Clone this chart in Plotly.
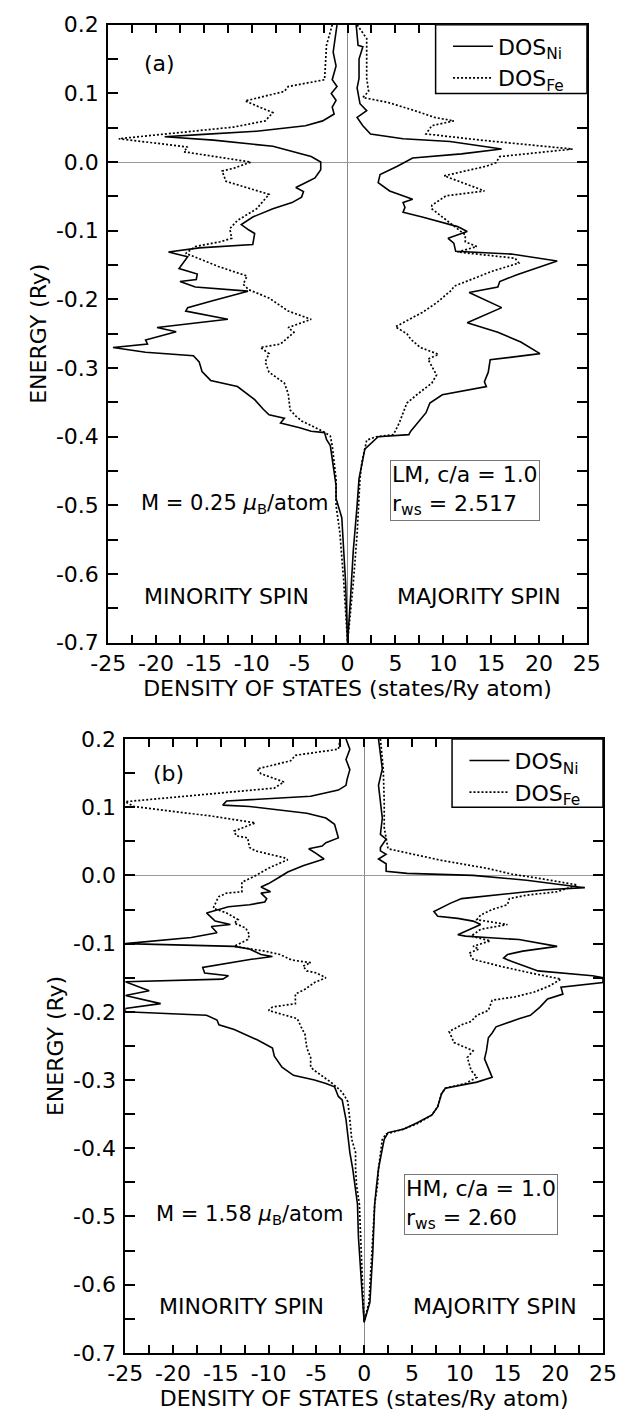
import plotly.graph_objects as go

FONT = "DejaVu Sans"

# ---------------- panel (a): LM, c/a = 1.0, r_ws = 2.517 ----------------
a_ni_min_e = [0.2, 0.18, 0.16, 0.14, 0.12, 0.11, 0.10, 0.09, 0.08, 0.07, 0.06, 0.053, 0.045, 0.04, 0.037,
              0.032, 0.023, 0.008, 0.0, -0.011, -0.023, -0.03, -0.037, -0.043, -0.051, -0.059, -0.068,
              -0.08, -0.091, -0.099, -0.104, -0.12, -0.125, -0.131, -0.138, -0.155, -0.163, -0.171, -0.174,
              -0.182, -0.188, -0.202, -0.212, -0.217, -0.229, -0.241, -0.247, -0.259, -0.265, -0.27, -0.277,
              -0.282, -0.291, -0.305, -0.318, -0.327, -0.346, -0.36, -0.368, -0.373, -0.38, -0.387, -0.392,
              -0.394, -0.404, -0.413, -0.433, -0.452, -0.471, -0.49, -0.518, -0.566, -0.613, -0.66, -0.7]
a_ni_min = [1.1, 1.3, 1.5, 1.2, 1.6, 1.1, 1.7, 1.2, 1.6, 1.4, 2.6, 4.4, 9.5, 15.5, 19.1,
            14.0, 7.8, 3.8, 2.8, 2.8, 3.4, 4.4, 5.4, 4.6, 4.8, 5.8, 7.8,
            9.9, 11.1, 10.3, 9.7, 9.9, 15.5, 18.7, 16.7, 17.6, 15.7, 15.8, 17.5,
            15.9, 10.4, 14.1, 16.7, 16.9, 12.5, 19.9, 17.9, 21.1, 20.9, 24.5, 21.1,
            16.1, 15.5, 15.2, 14.3, 11.5, 9.7, 8.8, 8.2, 6.6, 7.0, 5.0, 3.8,
            2.4, 2.2, 1.8, 1.6, 1.4, 1.2, 1.2, 0.6, 0.4, 0.2, 0.1, 0.0]

a_fe_min_e = [0.2, 0.17, 0.12, 0.11, 0.103, 0.089, 0.072, 0.06, 0.051, 0.034, 0.022, 0.015, 0.0,
              -0.009, -0.013, -0.028, -0.047, -0.068, -0.085, -0.097, -0.111, -0.116, -0.123, -0.133,
              -0.152, -0.166, -0.178, -0.186, -0.198, -0.217, -0.229, -0.241, -0.248, -0.265, -0.27,
              -0.279, -0.291, -0.306, -0.322, -0.337, -0.361, -0.37, -0.377, -0.392, -0.399, -0.413,
              -0.437, -0.461, -0.5, -0.54, -0.61, -0.66, -0.7]
a_fe_min = [1.6, 2.2, 2.4, 6.2, 6.6, 10.7, 7.8, 8.6, 11.9, 23.9, 16.7, 17.1, 10.1,
            11.9, 13.1, 12.7, 8.2, 9.5, 11.5, 12.3, 12.1, 13.3, 15.9, 16.9,
            13.5, 10.5, 10.9, 10.3, 8.2, 6.2, 3.8, 6.2, 5.6, 7.0, 9.1,
            8.2, 8.6, 8.2, 6.6, 6.2, 6.0, 5.4, 4.8, 2.6, 1.8, 1.6,
            1.4, 1.2, 1.2, 0.8, 0.4, 0.15, 0.0]

a_ni_maj_e = [0.2, 0.17, 0.168, 0.15, 0.122, 0.108, 0.085, 0.075, 0.065, 0.053, 0.041, 0.034, 0.03,
              0.019, 0.012, 0.006, -0.006, -0.018, -0.03, -0.042, -0.054, -0.059, -0.066, -0.073, -0.08,
              -0.094, -0.101, -0.111, -0.118, -0.13, -0.134, -0.144, -0.164, -0.174, -0.182, -0.19,
              -0.212, -0.234, -0.248, -0.262, -0.279, -0.288, -0.306, -0.32, -0.327, -0.339, -0.351,
              -0.365, -0.392, -0.397, -0.4, -0.418, -0.433, -0.461, -0.5, -0.566, -0.637, -0.7]
a_ni_maj = [0.9, 1.1, 1.6, 1.2, 1.2, 1.0, 1.3, 2.0, 1.0, 1.6, 2.4, 5.8, 10.7,
            16.1, 11.9, 6.8, 5.2, 3.4, 3.2, 4.4, 6.8, 5.8, 6.0, 5.8, 7.8,
            11.5, 12.5, 10.5, 11.1, 11.3, 17.1, 21.9, 17.7, 15.9, 15.7, 12.7,
            16.1, 12.5, 15.7, 18.1, 20.1, 14.9, 14.7, 14.3, 14.5, 9.9, 8.6,
            8.2, 6.6, 6.4, 3.2, 1.8, 1.6, 1.2, 1.0, 0.6, 0.3, 0.0]

a_fe_maj_e = [0.2, 0.18, 0.122, 0.103, 0.094, 0.087, 0.075, 0.065, 0.06, 0.053, 0.041, 0.032, 0.019,
              0.008, -0.001, -0.006, -0.02, -0.042, -0.049, -0.063, -0.068, -0.106, -0.116, -0.123,
              -0.131, -0.14, -0.147, -0.159, -0.181, -0.186, -0.205, -0.219, -0.24, -0.25, -0.258,
              -0.27, -0.28, -0.287, -0.31, -0.322, -0.337, -0.351, -0.38, -0.397, -0.4, -0.405, -0.418,
              -0.437, -0.461, -0.494, -0.542, -0.613, -0.7]
a_fe_maj = [1.0, 2.0, 2.0, 2.2, 1.6, 4.2, 7.0, 9.1, 11.1, 8.8, 8.2, 13.9, 23.5,
            15.9, 15.5, 14.5, 10.1, 14.3, 10.3, 8.8, 8.8, 12.3, 12.3, 13.5,
            11.5, 17.5, 17.9, 15.1, 11.1, 10.9, 9.3, 7.8, 5.0, 6.2, 6.6,
            7.6, 9.5, 8.4, 9.3, 8.8, 7.4, 6.2, 5.4, 4.8, 3.0, 2.0, 1.8,
            1.5, 1.3, 1.2, 1.0, 0.6, 0.0]

# ---------------- panel (b): HM, c/a = 1.0, r_ws = 2.60 ----------------
b_ni_min_e = [0.2, 0.185, 0.17, 0.155, 0.14, 0.132, 0.125, 0.116, 0.109, 0.103, 0.101, 0.091, 0.084,
              0.075, 0.055, 0.048, 0.043, 0.039, 0.032, 0.024, 0.014, 0.005, -0.002, -0.012, -0.017,
              -0.024, -0.026, -0.034, -0.039, -0.043, -0.046, -0.055, -0.067, -0.072, -0.075, -0.084,
              -0.091, -0.1, -0.104, -0.108, -0.116, -0.119, -0.123, -0.135, -0.143, -0.147, -0.152,
              -0.156, -0.169, -0.176, -0.188, -0.195, -0.2, -0.205, -0.212, -0.219, -0.226, -0.241,
              -0.253, -0.265, -0.281, -0.293, -0.3, -0.305, -0.31, -0.324, -0.329, -0.344, -0.358,
              -0.382, -0.406, -0.43, -0.454, -0.482, -0.53, -0.578, -0.636, -0.655]
b_ni_min = [1.9, 1.5, 1.9, 1.5, 1.8, 1.9, 2.7, 5.6, 14.4, 14.8, 12.0, 6.0, 4.0,
            3.1, 2.7, 4.0, 4.4, 5.8, 5.0, 4.2, 6.4, 8.0, 8.8, 10.0, 10.8,
            9.8, 10.8, 10.2, 10.4, 12.0, 14.2, 16.5, 15.6, 14.0, 16.0, 15.4,
            18.1, 25.0, 13.6, 12.0, 10.8, 9.6, 11.8, 16.9, 16.7, 14.2, 14.8,
            25.0, 22.5, 25.0, 21.3, 25.0, 25.0, 16.5, 15.4, 15.2, 13.6, 11.2,
            9.6, 9.4, 8.6, 7.4, 5.2, 4.0, 3.1, 2.7, 2.3, 2.1, 1.9,
            1.7, 1.5, 1.2, 1.0, 0.7, 0.6, 0.4, 0.1, 0.0]

b_fe_min_e = [0.2, 0.185, 0.176, 0.168, 0.156, 0.149, 0.137, 0.128, 0.108, 0.101, 0.094, 0.087, 0.077,
              0.065, 0.058, 0.055, 0.041, 0.036, 0.026, 0.023, 0.012, -0.002, -0.01, -0.024, -0.026,
              -0.031, -0.036, -0.048, -0.055, -0.065, -0.07, -0.077, -0.087, -0.094, -0.104, -0.111,
              -0.116, -0.124, -0.128, -0.133, -0.14, -0.143, -0.15, -0.157, -0.167, -0.174, -0.188,
              -0.193, -0.198, -0.21, -0.222, -0.233, -0.253, -0.267, -0.281, -0.286, -0.303, -0.315,
              -0.322, -0.332, -0.358, -0.387, -0.406, -0.43, -0.454, -0.482, -0.554, -0.626, -0.655]
b_fe_min = [2.5, 2.7, 7.2, 7.7, 11.2, 10.8, 8.4, 9.4, 25.0, 24.1, 20.1, 16.0, 11.4,
            13.6, 13.4, 12.2, 12.0, 11.4, 8.4, 8.0, 9.8, 11.6, 12.8, 12.8, 14.4,
            15.2, 15.4, 15.8, 14.4, 13.2, 13.6, 12.4, 12.0, 12.2, 13.6, 10.4,
            8.8, 7.6, 5.6, 6.4, 6.0, 5.0, 4.0, 5.2, 6.2, 7.2, 7.2,
            9.6, 10.0, 7.0, 6.6, 6.2, 6.0, 5.6, 5.6, 5.2, 3.5, 2.5,
            2.1, 1.7, 1.5, 1.3, 0.9, 0.9, 0.8, 0.5, 0.3, 0.1, 0.0]

b_ni_maj_e = [0.2, 0.156, 0.132, 0.108, 0.084, 0.06, 0.053, 0.041, 0.036, 0.031, 0.024, 0.017, 0.006,
              0.003, 0.0, -0.007, -0.018, -0.021, -0.026, -0.034, -0.041, -0.053, -0.06, -0.063, -0.067,
              -0.072, -0.087, -0.089, -0.091, -0.094, -0.104, -0.111, -0.116, -0.121, -0.126, -0.14,
              -0.147, -0.15, -0.157, -0.164, -0.174, -0.181, -0.193, -0.205, -0.21, -0.217, -0.222,
              -0.231, -0.238, -0.257, -0.269, -0.296, -0.303, -0.312, -0.32, -0.339, -0.351, -0.363,
              -0.372, -0.377, -0.387, -0.401, -0.43, -0.454, -0.482, -0.554, -0.626, -0.655]
b_ni_maj = [1.5, 1.9, 1.5, 1.7, 1.9, 1.7, 2.3, 1.7, 1.7, 2.3, 1.5, 2.3, 2.3,
            4.5, 11.4, 17.0, 23.1, 19.0, 15.4, 10.2, 9.0, 7.3, 7.7, 9.8, 11.4,
            12.2, 9.8, 10.6, 12.8, 16.2, 20.2, 16.6, 15.0, 14.6, 15.4, 18.2,
            23.9, 25.0, 25.0, 20.6, 20.8, 19.2, 18.4, 17.4, 16.2, 14.8, 13.8,
            13.4, 13.0, 12.8, 12.6, 13.4, 11.8, 8.5, 8.1, 7.7, 7.1, 5.5,
            4.1, 2.5, 2.1, 1.9, 1.5, 1.3, 1.1, 0.9, 0.6, 0.0]

b_fe_maj_e = [0.2, 0.156, 0.108, 0.07, 0.039, 0.034, 0.022, 0.01, 0.002, -0.005, -0.014, -0.024, -0.029,
              -0.034, -0.043, -0.05, -0.058, -0.065, -0.072, -0.079, -0.089, -0.096, -0.104, -0.108,
              -0.114, -0.123, -0.133, -0.143, -0.152, -0.162, -0.171, -0.178, -0.183, -0.198, -0.205,
              -0.214, -0.219, -0.229, -0.245, -0.257, -0.267, -0.286, -0.296, -0.305, -0.312, -0.32,
              -0.339, -0.351, -0.363, -0.372, -0.379, -0.387, -0.406, -0.43, -0.454, -0.482, -0.554,
              -0.626, -0.655]
b_fe_maj = [1.7, 2.0, 2.1, 2.1, 2.5, 4.1, 8.1, 13.0, 15.4, 18.6, 22.3, 20.2, 17.0,
            15.2, 15.0, 13.4, 12.2, 11.8, 15.0, 12.2, 11.2, 13.2, 11.4, 12.0,
            11.0, 11.4, 14.2, 17.4, 20.6, 19.4, 17.8, 15.8, 13.4, 13.0, 11.8,
            11.2, 10.2, 8.9, 9.4, 11.4, 10.8, 11.2, 11.8, 10.6, 8.5, 8.1,
            7.7, 7.1, 5.7, 4.1, 2.3, 1.9, 1.7, 1.5, 1.4, 1.1, 0.8,
            0.5, 0.0]

# ---------------- axes ----------------
x_tick_vals = [-25, -20, -15, -10, -5, 0, 5, 10, 15, 20, 25]
x_tick_text = ["-25", "-20", "-15", "-10", "-5", "0", "5", "10", "15", "20", "25"]
y_tick_vals = [0.2, 0.1, 0.0, -0.1, -0.2, -0.3, -0.4, -0.5, -0.6, -0.7]
y_tick_text = ["0.2", "0.1", "0.0", "-0.1", "-0.2", "-0.3", "-0.4", "-0.5", "-0.6", "-0.7"]

X_RANGE = [-25, 25]
Y_RANGE = [-0.7, 0.2]

# plot-area domains (paper fractions) for the two panels
W, H = 636, 1418
dom_a_x = [95 / W, 599 / W]
dom_a_y = [1 - 642 / H, 1 - 13 / H]
dom_b_x = [113 / W, 616 / W]
dom_b_y = [1 - 1365 / H, 1 - 740 / H]

FS = 22
tick_font = dict(family=FONT, size=FS, color="black")
title_font = dict(family=FONT, size=FS, color="black")


def x_axis(domain, anchor):
    return dict(
        domain=domain, anchor=anchor, range=X_RANGE, fixedrange=True,
        tickmode="array", tickvals=x_tick_vals, ticktext=x_tick_text,
        ticks="inside", ticklen=8, tickwidth=1.5, tickcolor="black",
        minor=dict(dtick=2.5, tick0=0, ticks="inside", ticklen=8, tickwidth=1.5,
                   tickcolor="black", showgrid=False),
        showline=True, linewidth=2, linecolor="black", mirror="ticks",
        showgrid=False, zeroline=True, zerolinecolor="#8a8a8a", zerolinewidth=1,
        tickfont=tick_font, ticklabelstandoff=0,
        title=dict(text="DENSITY OF STATES (states/Ry atom)", font=title_font, standoff=0),
    )


def y_axis(domain, anchor):
    return dict(
        domain=domain, anchor=anchor, range=Y_RANGE, fixedrange=True,
        tickmode="array", tickvals=y_tick_vals, ticktext=y_tick_text,
        ticks="inside", ticklen=10, tickwidth=1.5, tickcolor="black",
        minor=dict(dtick=0.05, tick0=0, ticks="inside", ticklen=10, tickwidth=1.5,
                   tickcolor="black", showgrid=False),
        showline=True, linewidth=2, linecolor="black", mirror="ticks",
        showgrid=False, zeroline=True, zerolinecolor="#9a9a9a", zerolinewidth=1,
        tickfont=tick_font, ticklabelstandoff=3,
        title=dict(text="ENERGY (Ry)", font=title_font, standoff=3),
    )


fig = go.Figure()

solid = dict(color="black", width=1.6)
dotted = dict(color="black", width=1.7, dash="2px,2px")


def add_panel(xa, ya, legend, ni_min_e, ni_min, fe_min_e, fe_min, ni_maj_e, ni_maj, fe_maj_e, fe_maj):
    # minority spin is drawn on the negative side of the DOS axis
    fig.add_trace(go.Scatter(x=[-v for v in ni_min], y=ni_min_e, mode="lines", line=solid,
                             name="DOS<sub>Ni</sub>", legend=legend, xaxis=xa, yaxis=ya,
                             legendgroup=legend + "ni"))
    fig.add_trace(go.Scatter(x=[-v for v in fe_min], y=fe_min_e, mode="lines", line=dotted,
                             name="DOS<sub>Fe</sub>", legend=legend, xaxis=xa, yaxis=ya,
                             legendgroup=legend + "fe"))
    fig.add_trace(go.Scatter(x=ni_maj, y=ni_maj_e, mode="lines", line=solid, showlegend=False,
                             xaxis=xa, yaxis=ya, legendgroup=legend + "ni"))
    fig.add_trace(go.Scatter(x=fe_maj, y=fe_maj_e, mode="lines", line=dotted, showlegend=False,
                             xaxis=xa, yaxis=ya, legendgroup=legend + "fe"))


add_panel("x", "y", "legend", a_ni_min_e, a_ni_min, a_fe_min_e, a_fe_min,
          a_ni_maj_e, a_ni_maj, a_fe_maj_e, a_fe_maj)
add_panel("x2", "y2", "legend2", b_ni_min_e, b_ni_min, b_fe_min_e, b_fe_min,
          b_ni_maj_e, b_ni_maj, b_fe_maj_e, b_fe_maj)


def to_paper(dom_x, dom_y, xv, yv):
    px = dom_x[0] + (xv - X_RANGE[0]) / (X_RANGE[1] - X_RANGE[0]) * (dom_x[1] - dom_x[0])
    py = dom_y[0] + (yv - Y_RANGE[0]) / (Y_RANGE[1] - Y_RANGE[0]) * (dom_y[1] - dom_y[0])
    return px, py


def legend_cfg(dom_x, dom_y):
    lx, ly = to_paper(dom_x, dom_y, 10.5, 0.199)
    return dict(x=lx, y=ly, xanchor="left", yanchor="top", xref="paper", yref="paper",
                bgcolor="rgba(0,0,0,0)", borderwidth=0, font=dict(family=FONT, size=FS, color="black"),
                itemwidth=40, tracegroupgap=0, traceorder="normal")


shapes = []
annotations = []
text_font = dict(family=FONT, size=FS, color="black")
m_font = dict(family=FONT, size=21, color="black")


def panel_text(xr, yr, label, m_text, box_text, lab_xy, m_xy, box_xy, spin_y, minority_x, majority_x):
    # legend frame
    shapes.append(dict(type="rect", xref=xr, yref=yr, x0=9.2, x1=25, y0=0.1, y1=0.2,
                       line=dict(color="black", width=1.5), fillcolor="white", layer="above"))
    annotations.append(dict(text=label, x=lab_xy[0], y=lab_xy[1], xref=xr, yref=yr,
                            xanchor="left", yanchor="middle", showarrow=False, font=text_font))
    annotations.append(dict(text=m_text, x=m_xy[0], y=m_xy[1], xref=xr, yref=yr,
                            xanchor="left", yanchor="middle", showarrow=False, font=m_font))
    annotations.append(dict(text=box_text, x=box_xy[0], y=box_xy[1], xref=xr, yref=yr,
                            xanchor="left", yanchor="middle", showarrow=False, align="left",
                            font=text_font, bordercolor="#777", borderwidth=1, borderpad=1,
                            bgcolor="white"))
    annotations.append(dict(text="MINORITY SPIN", x=minority_x, y=spin_y, xref=xr, yref=yr,
                            xanchor="left", yanchor="middle", showarrow=False, font=text_font))
    annotations.append(dict(text="MAJORITY SPIN", x=majority_x, y=spin_y, xref=xr, yref=yr,
                            xanchor="left", yanchor="middle", showarrow=False, font=text_font))


panel_text("x", "y", "(a)", "M = 0.25 <i>μ</i><sub>B</sub>/atom",
           "LM, c/a = 1.0<br>r<sub>ws</sub> = 2.517",
           (-21.5, 0.144), (-21.8, -0.498), (4.4, -0.478), -0.633, -21.5, 5.0)
panel_text("x2", "y2", "(b)", "M = 1.58 <i>μ</i><sub>B</sub>/atom",
           "HM, c/a = 1.0<br>r<sub>ws</sub> = 2.60",
           (-22.3, 0.15), (-22.0, -0.498), (4.2, -0.483), -0.632, -21.7, 4.9)

fig.update_layout(
    width=W, height=H, autosize=False,
    margin=dict(l=0, r=0, t=0, b=0),
    paper_bgcolor="white", plot_bgcolor="white",
    font=dict(family=FONT, size=FS, color="black"),
    xaxis=x_axis(dom_a_x, "y"), yaxis=y_axis(dom_a_y, "x"),
    xaxis2=x_axis(dom_b_x, "y2"), yaxis2=y_axis(dom_b_y, "x2"),
    legend=legend_cfg(dom_a_x, dom_a_y),
    legend2=legend_cfg(dom_b_x, dom_b_y),
    shapes=shapes, annotations=annotations,
    showlegend=True,
)

fig.write_html("out.html")
